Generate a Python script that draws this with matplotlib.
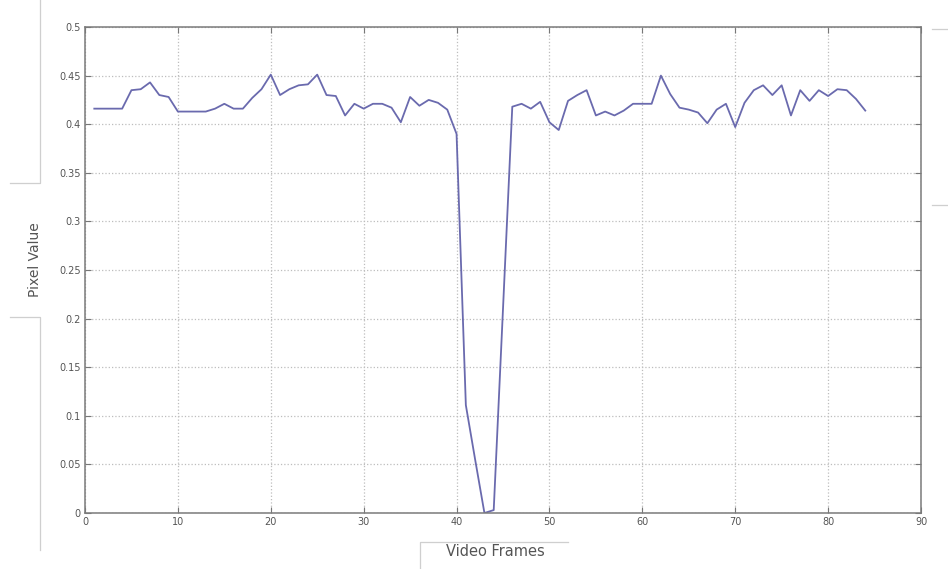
import numpy as np
import matplotlib.pyplot as plt
from matplotlib.lines import Line2D

# frame index and pixel value
frames = np.arange(1, 85)
pixel_value = [
    0.416, 0.416, 0.416, 0.416, 0.435, 0.436, 0.443, 0.430, 0.428, 0.413,
    0.413, 0.413, 0.413, 0.416, 0.421, 0.416, 0.416, 0.427, 0.436, 0.451,
    0.430, 0.436, 0.440, 0.441, 0.451, 0.430, 0.429, 0.409, 0.421, 0.416,
    0.421, 0.421, 0.417, 0.402, 0.428, 0.419, 0.425, 0.422, 0.415, 0.390,
    0.111, 0.055, 0.000, 0.003, 0.210, 0.418, 0.421, 0.416, 0.423, 0.402,
    0.394, 0.424, 0.430, 0.435, 0.409, 0.413, 0.409, 0.414, 0.421, 0.421,
    0.421, 0.450, 0.431, 0.417, 0.415, 0.412, 0.401, 0.415, 0.421, 0.397,
    0.422, 0.435, 0.440, 0.430, 0.440, 0.409, 0.435, 0.424, 0.435, 0.429,
    0.436, 0.435, 0.426, 0.414,
]
xticks = np.arange(0, 91, 10)
yticks = np.round(np.arange(0, 0.501, 0.05), 2)
ytick_labels = ["0", "0.05", "0.1", "0.15", "0.2", "0.25", "0.3", "0.35", "0.4", "0.45", "0.5"]

W, H = 948, 569
fig = plt.figure(figsize=(W / 100, H / 100), dpi=100)
ax = fig.add_axes([85 / W, 1 - 513 / H, (921 - 85) / W, (513 - 27) / H])

ax.plot(frames, pixel_value, color="#6a6aae", lw=1.3)

ax.set_xlim(0, 90)
ax.set_ylim(0, 0.5)
ax.set_xticks(xticks)
ax.set_yticks(yticks)
ax.set_yticklabels(ytick_labels)
ax.grid(True, ls=":", color="#bdbdbd", lw=0.9)
ax.tick_params(direction="in", length=4, top=True, right=True,
               labelsize=7, colors="#777777", labelcolor="#555555", pad=3)
for s in ax.spines.values():
    s.set_color("#7a7a7a")
    s.set_linewidth(1.1)

fig.text(35 / W, 1 - 260 / H, "Pixel Value", rotation=90, ha="center", va="center",
         fontsize=10, color="#555555")
fig.text(495 / W, 1 - 551 / H, "Video Frames", ha="center", va="center",
         fontsize=10.5, color="#555555")

# leftover label box edges from the screenshot
def px_line(xs, ys):
    fig.add_artist(Line2D([x / W for x in xs], [1 - y / H for y in ys],
                          color="#cfcfcf", lw=0.9))

px_line([40, 40, 10], [0, 183, 183])
px_line([10, 40, 40], [317, 317, 550])
px_line([420, 420, 568], [569, 542, 542])
px_line([932, 948], [29, 29])
px_line([932, 948], [205, 205])

fig.savefig("out.png", dpi=100, facecolor="white")
